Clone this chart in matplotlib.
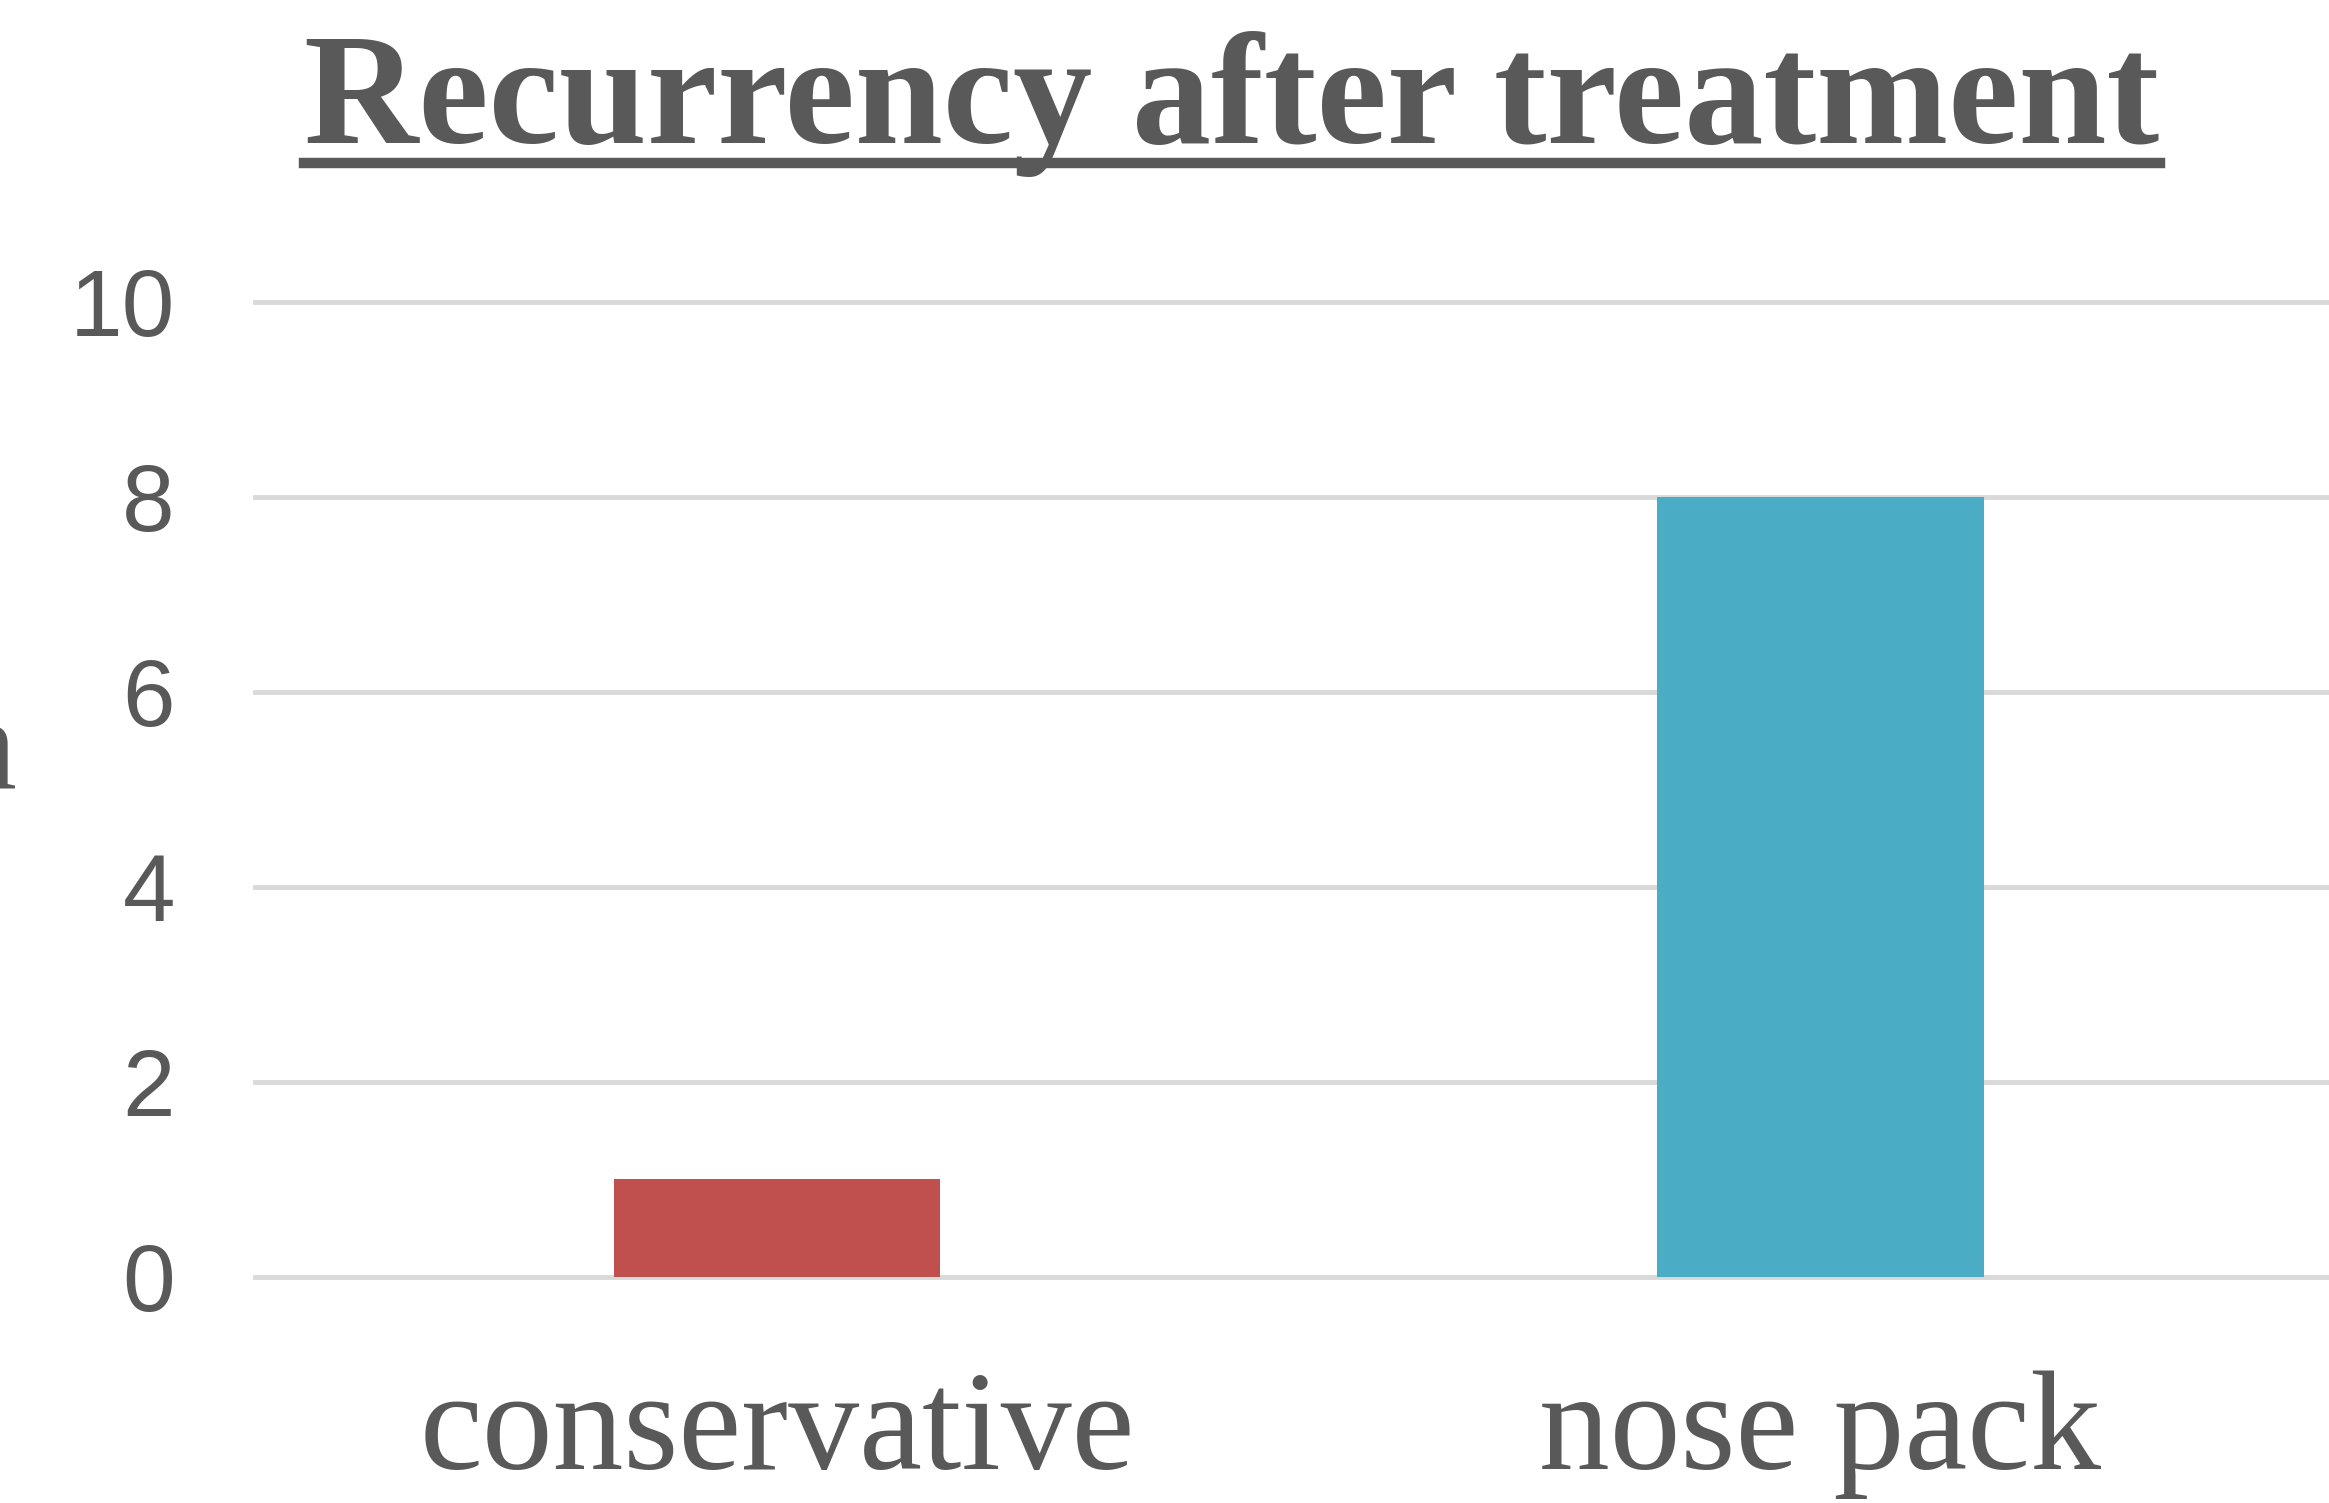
import matplotlib.pyplot as plt
from matplotlib.lines import Line2D

categories = ["conservative", "nose pack"]
recurrences = [1, 8]
bar_colors = ["#C0504D", "#4BACC6"]
yticks = [0, 2, 4, 6, 8, 10]

text_col = "#595959"

fig = plt.figure(figsize=(23.29, 15.03), dpi=100)
ax = fig.add_axes([0.1097, 0.1504, 0.8959, 0.6490])

ax.bar(range(len(categories)), recurrences, width=0.313, color=bar_colors, zorder=3)
ax.set_xlim(-0.5, 1.5)
ax.set_ylim(0, 10)
ax.set_yticks(yticks)
ax.set_yticklabels([str(t) for t in yticks], fontsize=68, color=text_col,
                   family="Liberation Sans")
ax.set_xticks(range(len(categories)))
ax.set_xticklabels(categories, fontsize=102, color=text_col, family="Liberation Serif")
ax.tick_params(axis="y", length=0, pad=58)
ax.tick_params(axis="x", length=0, pad=67)
ax.grid(axis="y", color="#D9D9D9", linewidth=3.5, zorder=0)
for g in ax.get_ygridlines():
    g.set_clip_on(False)
for s in ax.spines.values():
    s.set_visible(False)

# title with underline
title = fig.text(0.529, 0.905, "Recurrency after treatment", ha="center", va="baseline",
                 fontsize=114, fontweight="bold", color=text_col, family="Liberation Serif")
fig.canvas.draw()
bb = title.get_window_extent().transformed(fig.transFigure.inverted())
fig.add_artist(Line2D([bb.x0, bb.x1], [0.8915, 0.8915], transform=fig.transFigure,
                      color=text_col, linewidth=7.5))

# axis title, cut off at the left edge like in the original
fig.text(0.0073, 0.476, "n", ha="right", va="baseline", fontsize=95,
         color=text_col, family="Liberation Serif")

fig.savefig("out.png", dpi=100)
